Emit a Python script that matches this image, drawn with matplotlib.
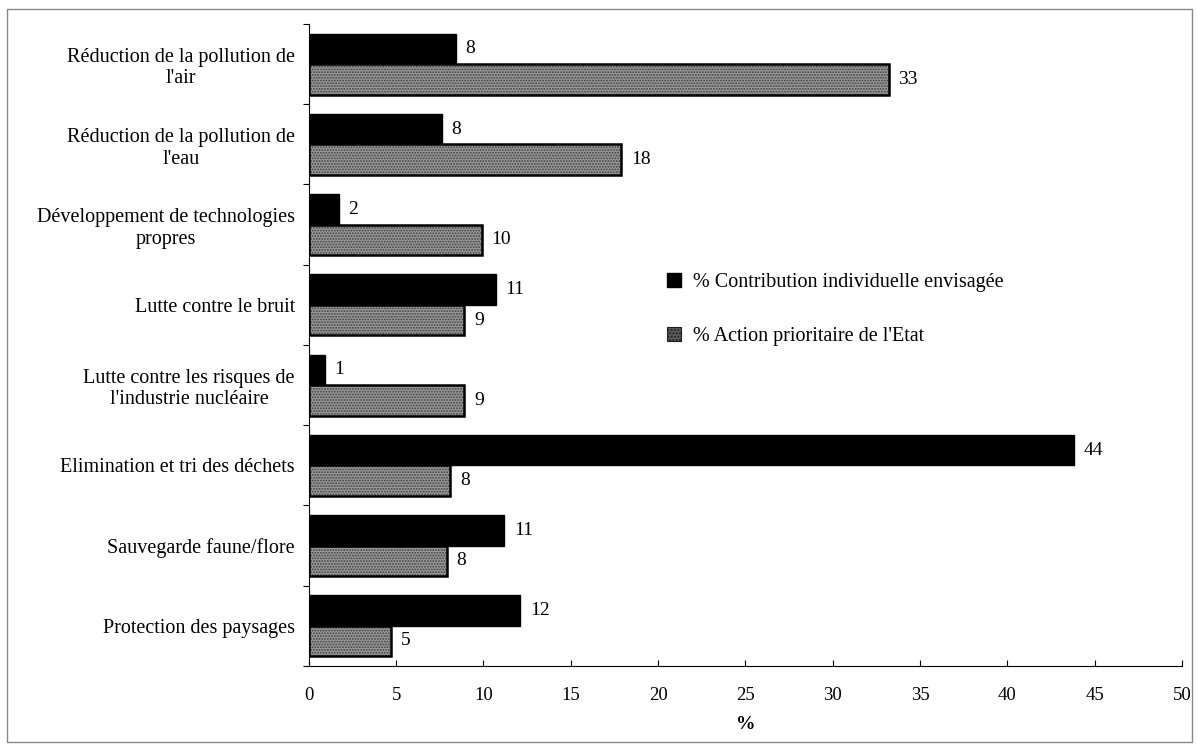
import matplotlib
matplotlib.use("Agg")
import matplotlib.pyplot as plt
import matplotlib.patches as patches
import numpy as np

categories = [
    "Réduction de la pollution de\nl'air",
    "Réduction de la pollution de\nl'eau",
    "Développement de technologies\npropres",
    "Lutte contre le bruit",
    "Lutte contre les risques de\nl'industrie nucléaire",
    "Elimination et tri des déchets",
    "Sauvegarde faune/flore",
    "Protection des paysages",
]
contribution = [8.4, 7.6, 1.7, 10.7, 0.9, 43.8, 11.2, 12.1]
action_etat = [33.2, 17.9, 9.9, 8.9, 8.9, 8.1, 7.9, 4.7]
contribution_labels = ["8", "8", "2", "11", "1", "44", "11", "12"]
action_labels = ["33", "18", "10", "9", "9", "8", "8", "5"]
series_names = ["% Contribution individuelle envisagée", "% Action prioritaire de l'Etat"]
x_ticks = [0, 5, 10, 15, 20, 25, 30, 35, 40, 45, 50]

plt.rcParams['font.family'] = ['Liberation Serif', 'DejaVu Serif']
plt.rcParams['hatch.linewidth'] = 0.9

fig = plt.figure(figsize=(11.97, 7.49), dpi=100)
ax = fig.add_axes([0.258, 0.111, 0.9875 - 0.258, 0.968 - 0.111])

y = np.arange(len(categories))
h = 0.38

b1 = ax.barh(y - h / 2, contribution, height=h, color='black', edgecolor='black', lw=1)
# textured grey fill, then the black outline on top
ax.barh(y + h / 2, action_etat, height=h, color='#979797', edgecolor='#404040', hatch='......', lw=0)
b2 = ax.barh(y + h / 2, action_etat, height=h, facecolor='none', edgecolor='black', lw=1.8)

ax.bar_label(b1, labels=contribution_labels, padding=7, fontsize=14)
ax.bar_label(b2, labels=action_labels, padding=7, fontsize=14)

ax.set_ylim(len(categories) - 0.5, -0.5)
ax.set_yticks(np.arange(len(categories) + 1) - 0.5)
ax.set_yticklabels([])
ax.set_yticks(y, minor=True)
ax.set_yticklabels(categories, minor=True, fontsize=14.5)
for lab in ax.get_yticklabels(minor=True):
    lab.set_multialignment('center')
ax.tick_params(axis='y', which='major', length=4, direction='out', width=0.8)
ax.tick_params(axis='y', which='minor', length=0, pad=10)

ax.set_xlim(0, 50)
ax.set_xticks(x_ticks)
ax.tick_params(axis='x', direction='in', length=4, width=0.8, labelsize=13.5, pad=15)
ax.set_xlabel("%", fontsize=14, fontweight='bold', labelpad=9)

ax.spines['top'].set_visible(False)
ax.spines['right'].set_visible(False)
ax.spines['left'].set_linewidth(0.8)
ax.spines['bottom'].set_linewidth(0.8)

handles = [
    patches.Patch(facecolor='black', edgecolor='black'),
    patches.Patch(facecolor='#5a5a5a', edgecolor='#1e1e1e', hatch='.....', lw=0.8),
]
fig.legend(handles, series_names, loc='center left', bbox_to_anchor=(0.549, 0.587),
           frameon=False, fontsize=14.5, handlelength=0.7, handleheight=0.7,
           handletextpad=0.6, labelspacing=1.75, borderpad=0)

fig.add_artist(patches.Rectangle((0.006, 0.01), 0.99, 0.978, transform=fig.transFigure,
                                 fill=False, edgecolor='#888888', lw=1))

fig.savefig("out.png", dpi=100)
